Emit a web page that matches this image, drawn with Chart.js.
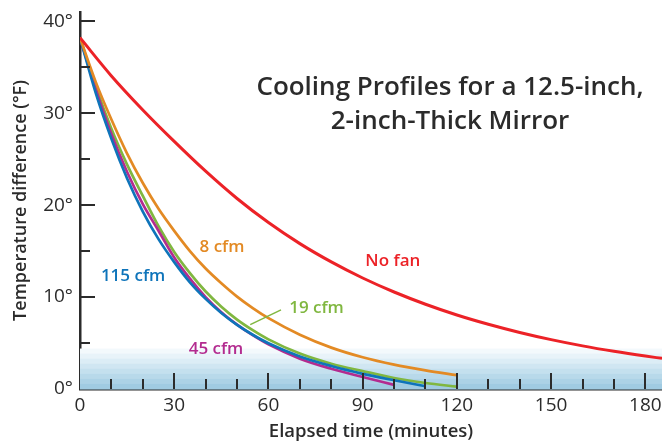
<!DOCTYPE html>
<html><head><meta charset="utf-8">
<script src="https://cdn.jsdelivr.net/npm/chart.js@4/dist/chart.umd.min.js"></script>
<style>html,body{margin:0;padding:0;background:#fff}#wrap{width:662px;height:443px;position:relative}</style>
</head><body><div id="wrap"><canvas id="c"></canvas></div>
<script>
// ---- data ----
const seriesNames = ['No fan', '8 cfm', '19 cfm', '45 cfm', '115 cfm'];
const noFanTimes = [0,10,20,30,40,50,60,70,80,90,100,110,120,130,140,150,160,170,180,185.3];
const noFan      = [38.2,34.05,30.35,26.93,23.69,20.72,18.1,15.81,13.82,12.07,10.55,9.22,8.05,7.04,6.15,5.37,4.69,4.1,3.58,3.33];
const cfm8Times  = [0,5,10,15,20,25,30,35,40,45,50,55,60,70,80,90,100,110,120];
const cfm8       = [38.2,33.4,29.3,25.6,22.4,19.6,17.2,15.0,13.1,11.5,10.05,8.8,7.7,5.9,4.5,3.45,2.65,2.03,1.5];
const cfm19Times = [0,5,10,15,20,25,30,35,40,45,50,55,60,70,80,90,100,110,120];
const cfm19      = [38.2,32.9,28.3,24.4,21.0,17.7,14.9,12.6,10.6,8.95,7.55,6.4,5.4,3.85,2.75,1.95,1.2,0.65,0.25];
const cfm45Times = [0,5,10,15,20,25,30,35,40,45,50,55,60,70,80,90,100];
const cfm45      = [38.2,32.6,27.7,23.6,20.1,17.2,14.3,12.0,10.0,8.35,7.0,5.85,4.85,3.3,2.2,1.3,0.45];
const cfm115Times= [0,5,10,15,20,25,30,35,40,45,50,55,60,70,80,90,100,110];
const cfm115     = [38.2,32.2,27.2,22.9,19.3,16.3,13.8,11.6,9.8,8.27,6.98,5.9,4.97,3.54,2.5,1.65,0.95,0.3];
const xTickValues = [0,30,60,90,120,150,180];
const xMinorTicks = [10,20,40,50,70,80,100,110,130,140,160,170];
const yTickValues = [0,10,20,30,40];
const yMinorTicks = [5,15,25,35];
const titleLines = ['Cooling Profiles for a 12.5-inch,', '2-inch-Thick Mirror'];
const xTitle = 'Elapsed time (minutes)';
const yTitle = 'Temperature difference (°F)';

const colors = {'No fan':'#ec2227','8 cfm':'#e38a24','19 cfm':'#80b740','45 cfm':'#b32b8f','115 cfm':'#0e74ba'};
const toPts = (ts, vs) => vs.map((v,i) => ({x: ts[i], y: v}));
const seriesData = {
  'No fan': toPts(noFanTimes, noFan),
  '8 cfm': toPts(cfm8Times, cfm8),
  '19 cfm': toPts(cfm19Times, cfm19),
  '45 cfm': toPts(cfm45Times, cfm45),
  '115 cfm': toPts(cfm115Times, cfm115)
};
const drawOrder = ['No fan','8 cfm','115 cfm','45 cfm','19 cfm'];

const FONT = '"Open Sans", "Noto Sans", sans-serif';
const INK = '#2b2b2b';

const decor = {
  id: 'decor',
  beforeDatasetsDraw(chart) {
    const {ctx, chartArea: a, scales: {x, y}} = chart;
    const shades = ['#f3f9fc','#e8f3f9','#dcedf6','#d0e6f2','#c4e0ee','#b8d9ea','#acd2e6','#a0cbe2'];
    const top = 4.4, step = top / shades.length;
    ctx.save();
    shades.forEach((c, i) => {
      const y1 = y.getPixelForValue(top - i * step);
      const y2 = y.getPixelForValue(top - (i + 1) * step);
      ctx.fillStyle = c;
      ctx.fillRect(a.left, y1, a.right - a.left, y2 - y1 + 0.5);
    });
    ctx.restore();
  },
  afterDatasetsDraw(chart) {
    const {ctx, scales: {x, y}} = chart;
    ctx.save();
    ctx.strokeStyle = INK;
    ctx.lineWidth = 2;
    const bottom = y.getPixelForValue(0);
    const left = x.getPixelForValue(0);
    ctx.beginPath();
    xTickValues.forEach(v => { if (v === 0) return; const px = Math.round(x.getPixelForValue(v)); ctx.moveTo(px, bottom); ctx.lineTo(px, bottom - 16); });
    xMinorTicks.forEach(v => { const px = Math.round(x.getPixelForValue(v)); ctx.moveTo(px, bottom); ctx.lineTo(px, bottom - 10); });
    yTickValues.forEach(v => { if (v === 0) return; const py = Math.round(y.getPixelForValue(v)); ctx.moveTo(left, py); ctx.lineTo(left + 15, py); });
    yMinorTicks.forEach(v => { const py = Math.round(y.getPixelForValue(v)); ctx.moveTo(left, py); ctx.lineTo(left + 10, py); });
    ctx.stroke();

    // series labels
    const labelPos = {'115 cfm':[16.9,12.3],'8 cfm':[45.2,15.4],'19 cfm':[75.3,8.8],'45 cfm':[43.3,4.3],'No fan':[99.6,13.9]};
    ctx.font = '600 17px ' + FONT;
    ctx.textAlign = 'center';
    ctx.textBaseline = 'middle';
    seriesNames.forEach(n => {
      const [t, v] = labelPos[n];
      ctx.fillStyle = colors[n];
      ctx.fillText(n, x.getPixelForValue(t), y.getPixelForValue(v));
    });
    // pointer for 19 cfm
    ctx.strokeStyle = colors['19 cfm'];
    ctx.lineWidth = 1.5;
    ctx.beginPath();
    ctx.moveTo(x.getPixelForValue(54.2), y.getPixelForValue(7.0));
    ctx.lineTo(x.getPixelForValue(64.0), y.getPixelForValue(8.6));
    ctx.stroke();

    // title
    ctx.fillStyle = INK;
    ctx.font = '600 26px ' + FONT;
    ctx.fillText(titleLines[0], 450, 88);
    ctx.fillText(titleLines[1], 450, 122);
    ctx.restore();
  }
};

new Chart(document.getElementById('c'), {
  type: 'line',
  data: {
    datasets: drawOrder.map(n => ({
      label: n,
      data: seriesData[n],
      borderColor: colors[n],
      borderWidth: n === 'No fan' ? 3 : 2.7,
      pointRadius: 0,
      fill: false,
      cubicInterpolationMode: 'monotone'
    }))
  },
  options: {
    responsive: true,
    maintainAspectRatio: false,
    animation: false,
    layout: {padding: {top: 12, right: 0, left: 0, bottom: 0}},
    plugins: {legend: {display: false}, tooltip: {enabled: false}, title: {display: false}},
    scales: {
      x: {
        type: 'linear', min: 0, max: 185.3,
        afterBuildTicks: s => { s.ticks = xTickValues.map(v => ({value: v})); },
        afterFit: s => { s.height = 54; s.paddingRight = 0; s.paddingLeft = 0; },
        grid: {display: false, drawTicks: false},
        border: {display: true, color: INK, width: 2.5},
        ticks: {color: INK, font: {family: FONT, size: 19}, padding: 5, maxRotation: 0, autoSkip: false},
        title: {display: true, text: xTitle, color: INK, font: {family: FONT, size: 18.5, weight: '600'}, padding: {top: 0, bottom: 0}}
      },
      y: {
        type: 'linear', min: 0, max: 41,
        afterBuildTicks: s => { s.ticks = yTickValues.map(v => ({value: v})); },
        afterFit: s => { s.width = 80; s.paddingTop = 0; s.paddingBottom = 0; },
        grid: {display: false, drawTicks: false},
        border: {display: true, color: INK, width: 2.5},
        ticks: {color: INK, font: {family: FONT, size: 19}, padding: 7, callback: v => v + '°'},
        title: {display: true, text: yTitle, color: INK, font: {family: FONT, size: 18, weight: '600'}, padding: {top: 10, bottom: 0}}
      }
    }
  },
  plugins: [decor]
});
</script></body></html>
